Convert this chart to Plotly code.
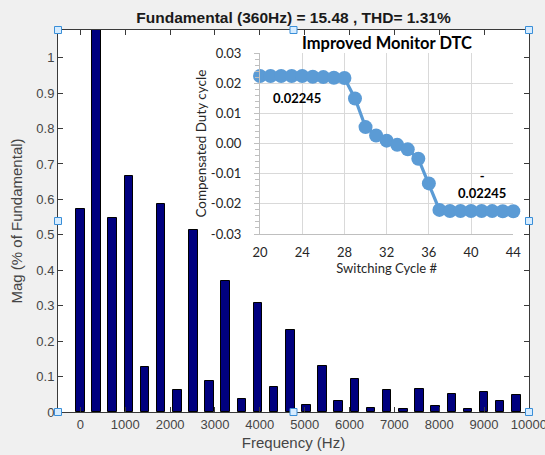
import plotly.graph_objects as go

# ---------------- data ----------------
harmonic_freq_hz = [0, 360, 720, 1080, 1440, 1800, 2160, 2520, 2880, 3240, 3600, 3960, 4320, 4680,
                    5040, 5400, 5760, 6120, 6480, 6840, 7200, 7560, 7920, 8280, 8640, 9000, 9360, 9720]
harmonic_mag_pct = [0.572, 100.0, 0.547, 0.667, 0.127, 0.586, 0.061, 0.513, 0.087, 0.369, 0.036, 0.308,
                    0.071, 0.231, 0.020, 0.130, 0.031, 0.092, 0.012, 0.062, 0.0085, 0.065, 0.017, 0.051,
                    0.0095, 0.056, 0.031, 0.048]
main_xticks = [0, 1000, 2000, 3000, 4000, 5000, 6000, 7000, 8000, 9000, 10000]
main_xticktext = ["0", "1000", "2000", "3000", "4000", "5000", "6000", "7000", "8000", "9000", "10000"]
main_yticks = [0, 0.1, 0.2, 0.3, 0.4, 0.5, 0.6, 0.7, 0.8, 0.9, 1]
main_yticktext = ["0", "0.1", "0.2", "0.3", "0.4", "0.5", "0.6", "0.7", "0.8", "0.9", "1"]

switching_cycle = list(range(20, 45))
comp_duty = [0.02245, 0.02245, 0.02245, 0.02245, 0.02245, 0.0222, 0.0221, 0.0219, 0.0218,
             0.0150, 0.0055, 0.0027, 0.0010, -0.0004, -0.0019, -0.0050, -0.0132,
             -0.0220, -0.02235, -0.02235, -0.02235, -0.02235, -0.0224, -0.02245, -0.02245]
inset_xticks = [20, 24, 28, 32, 36, 40, 44]
inset_yticks = [-0.03, -0.02, -0.01, 0.0, 0.01, 0.02, 0.03]
inset_yticktext = ["-0.03", "-0.02", "-0.01", "0.00", "0.01", "0.02", "0.03"]

title_text = "Fundamental (360Hz) = 15.48 , THD= 1.31%"
inset_title = "Improved Monitor DTC"

# ---------------- figure ----------------
W, H = 545, 455
ML, MR, MT, MB = 58, 16, 30, 43
PW, PH = W - ML - MR, H - MT - MB

fig = go.Figure()

fig.add_trace(go.Bar(
    x=harmonic_freq_hz, y=harmonic_mag_pct, width=190,
    marker=dict(color="#00007f", line=dict(color="#000000", width=1)),
    xaxis="x", yaxis="y", showlegend=False, hoverinfo="skip"))

fig.add_trace(go.Scatter(
    x=switching_cycle, y=comp_duty, mode="lines+markers",
    line=dict(color="#5b9bd5", width=3.2),
    marker=dict(color="#5b9bd5", size=14),
    xaxis="x2", yaxis="y2", showlegend=False, cliponaxis=False, hoverinfo="skip"))

main_font = "Liberation Sans, Arial, sans-serif"
inset_font = "Lato, Open Sans, sans-serif"
axcol = "#3a3a3a"
txtcol = "#454545"

# inset domain in pixels -> paper fraction
ix0, ix1 = 260, 513.3
iy_top, iy_bot = 53.3, 234
x2dom = [(ix0 - ML) / PW, (ix1 - ML) / PW]
y2dom = [(H - MB - iy_bot) / PH, (H - MB - iy_top) / PH]

fig.update_layout(
    width=W, height=H,
    margin=dict(l=ML, r=MR, t=MT, b=MB, autoexpand=False),
    paper_bgcolor="#f0f0f0", plot_bgcolor="#ffffff",
    bargap=0,
    title=dict(text="<b>%s</b>" % title_text, x=(ML + PW / 2) / W, xanchor="center",
               y=1 - 18 / H, yanchor="middle",
               font=dict(family=main_font, size=15.5, color="#1a1a1a")),
    xaxis=dict(domain=[0, 1], range=[-500, 10002], tickvals=main_xticks, ticktext=main_xticktext,
               automargin=False, ticklabeloverflow="allow",
               ticks="inside", ticklen=5, tickcolor=axcol, showline=True, linecolor=axcol,
               mirror="ticks", showgrid=False, zeroline=False,
               tickfont=dict(family=main_font, size=13, color=txtcol),
               title=dict(text="Frequency (Hz)", standoff=6,
                          font=dict(family=main_font, size=15, color=txtcol))),
    yaxis=dict(domain=[0, 1], range=[0, 1.078], tickvals=main_yticks, ticktext=main_yticktext,
               automargin=False,
               ticks="inside", ticklen=5, tickcolor=axcol, showline=True, linecolor=axcol,
               mirror="ticks", showgrid=False, zeroline=False,
               tickfont=dict(family=main_font, size=13, color=txtcol),
               title=dict(text="Mag (% of Fundamental)", standoff=10,
                          font=dict(family=main_font, size=15, color=txtcol))),
    xaxis2=dict(domain=x2dom, anchor="y2", range=[20, 44], tickvals=inset_xticks,
                automargin=False,
                showgrid=True, gridcolor="#d9d9d9", gridwidth=1, zeroline=False,
                showline=True, linecolor="#bfbfbf", ticks="outside", ticklen=6,
                tickcolor="rgba(0,0,0,0)",
                tickfont=dict(family=inset_font, size=13, color="#262626"),
                title=dict(text="Switching Cycle #", standoff=0,
                           font=dict(family=inset_font, size=13, color="#262626"))),
    yaxis2=dict(domain=y2dom, anchor="x2", range=[-0.03, 0.03], tickvals=inset_yticks,
                ticktext=inset_yticktext, automargin=False,
                showgrid=True, gridcolor="#d9d9d9", gridwidth=1, zeroline=False,
                showline=True, linecolor="#bfbfbf", ticks="outside", ticklen=5, tickcolor="#bfbfbf",
                ticklabelstandoff=10,
                minor=dict(dtick=0.002, ticks="outside", ticklen=4, tickcolor="#bfbfbf", showgrid=False),
                tickfont=dict(family=inset_font, size=13, color="#262626"),
                title=dict(text="Compensated Duty cycle", standoff=1,
                           font=dict(family=inset_font, size=13.5, color="#262626"))),
)

# inset title
fig.add_annotation(text="<b>%s</b>" % inset_title, xref="x2 domain", yref="y2 domain",
                   x=0.5, y=1, yshift=10, xanchor="center", yanchor="middle", showarrow=False,
                   font=dict(family=inset_font, size=16.5, color="#000000"))

# data labels anchored to data points
fig.add_annotation(text="<b>%.5f</b>" % comp_duty[0], xref="x2", yref="y2",
                   x=switching_cycle[0], y=comp_duty[0], xshift=37, yshift=-22,
                   showarrow=False, font=dict(family=inset_font, size=13, color="#000000"))
fig.add_annotation(text="<b>-<br>%.5f</b>" % abs(comp_duty[-1]), xref="x2", yref="y2",
                   x=switching_cycle[21], y=comp_duty[21], xshift=0, yshift=26,
                   showarrow=False, font=dict(family=inset_font, size=13, color="#000000"))

# selection handles (MATLAB figure edit mode)
for hx in (0, 0.5, 1):
    for hy in (0, 0.5, 1):
        if hx == 0.5 and hy == 0.5:
            continue
        fig.add_shape(type="rect", xref="paper", yref="paper", xsizemode="pixel", ysizemode="pixel",
                      xanchor=hx, yanchor=hy, x0=-3.5, x1=3.5, y0=-3.5, y1=3.5,
                      fillcolor="#d6ecff", line=dict(color="#3a8fd8", width=1))

fig.write_html("out.html", config={"displayModeBar": False},
               post_script="document.body.style.margin='0';")
